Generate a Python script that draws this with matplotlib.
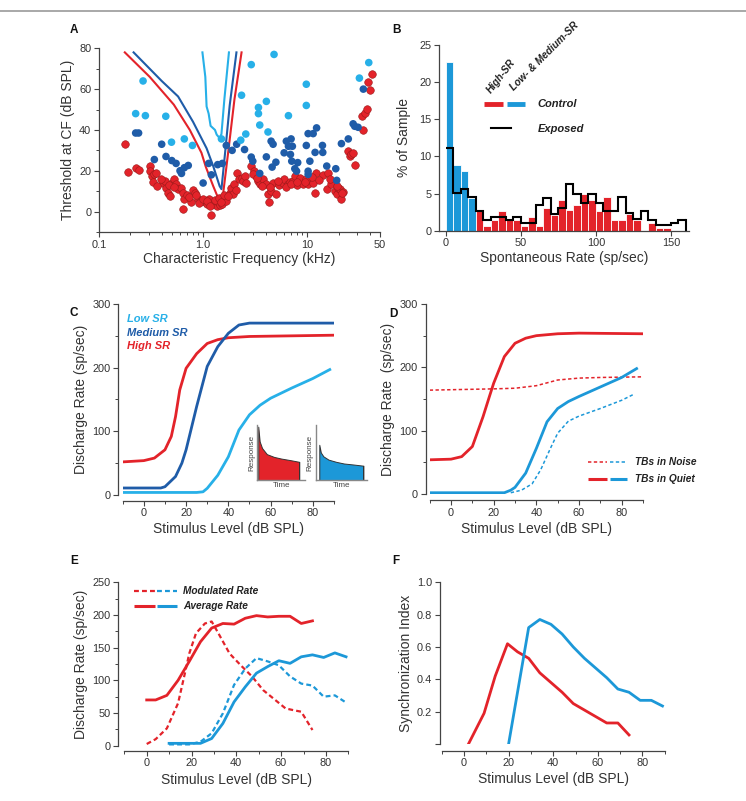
import numpy as np
import matplotlib
matplotlib.use('Agg')
import matplotlib.pyplot as plt
from matplotlib.lines import Line2D
from matplotlib.ticker import MultipleLocator, FixedLocator, NullFormatter, LogLocator

plt.rcParams['font.family'] = ['Liberation Sans', 'DejaVu Sans']

RED = '#e3232a'
LBLUE = '#27b0e8'
DBLUE = '#1f5ca8'
BLUE = '#1c98d8'
INK = '#333333'

# ---------------- Panel A data ----------------
low_f = [0.265, 0.225, 0.279, 0.438, 0.66, 0.79, 0.497, 1.50, 2.34, 2.57, 2.30, 2.9, 3.4, 3.4, 3.5,
         4.05, 4.2, 4.8, 6.6, 9.8, 9.8, 31.7, 39.0]
low_thr = [64, 48, 47, 46.7, 35.6, 32.4, 34, 35.6, 57, 38, 35, 72, 51, 48, 42.4,
           54, 39, 77, 47, 62.4, 52, 65.4, 73]
med_f = [0.225, 0.24, 0.40, 0.34, 0.44, 0.50, 0.55, 0.60, 0.66, 0.72, 0.62, 1.0, 1.13, 1.2, 1.38,
         1.53, 1.67, 1.9, 2.1, 2.5, 2.9, 3.0, 3.5, 4.05, 4.5, 4.7, 5.0, 4.6, 6.0, 6.3, 6.6, 7.0,
         7.2, 6.9, 7.1, 7.6, 7.9, 8.1, 9.8, 10.2, 10.6, 10.2, 10.2, 11.4, 11.9, 12.3, 14.0, 14.1,
         15.4, 18.8, 19.2, 21.3, 24.8, 27.6, 28.6, 30.8, 34.6]
med_thr = [38.5, 38.5, 33, 25.5, 27, 25, 23.6, 20, 21.5, 22.6, 18.7, 14, 23.6, 18, 23,
           23.6, 32.4, 30, 33, 30.4, 26.7, 24.7, 18.7, 26.8, 34.5, 33, 24.2, 21.8, 28.8, 34.5, 32, 35.6,
           32, 28, 24.7, 21, 19.8, 24, 32.4, 38.2, 24.7, 19.8, 18.2, 38.2, 29, 41, 32.4, 29,
           22.3, 21, 15.3, 33.3, 35.6, 43, 41.8, 41.3, 60]
high_f = [0.177, 0.19, 0.225, 0.24, 0.307, 0.307, 0.32, 0.33, 0.34, 0.355, 0.41, 0.43, 0.44, 0.46,
          0.48, 0.50, 0.52, 0.55, 0.57, 0.62, 0.64, 0.66, 0.64, 0.77, 0.80, 0.83, 0.89, 0.96, 1.04,
          1.08, 1.14, 1.19, 1.25, 1.35, 1.38, 1.44, 1.53, 1.62, 1.67, 1.80, 1.87, 1.93, 2.0, 2.1,
          2.2, 2.34, 2.4, 2.5, 2.9, 3.1, 3.2, 3.4, 3.5, 3.8, 4.0, 4.2, 4.3, 4.5, 4.7, 5.0, 5.4,
          5.8, 6.0, 6.6, 6.9, 7.3, 7.6, 7.9, 8.5, 9.1, 9.8, 10.2, 10.6, 11.4, 11.9, 12.1, 14.2,
          15.4, 15.9, 17.1, 18.5, 19.2, 19.9, 20.6, 21.3, 22.2, 24.8, 25.6, 26.5, 27.6, 29.0,
          34.6, 33.3, 35.9, 37.3, 38.7, 40.0, 41.5,
          0.36, 0.39, 0.47, 0.53, 0.70, 0.74, 0.86, 0.92, 1.0, 1.1, 1.16, 1.3, 1.42, 1.48, 1.58,
          1.72, 2.05, 2.6, 3.0, 3.3, 3.7, 4.4, 5.2, 6.3, 7.0, 8.0, 9.5, 11.0, 13.0, 16.5, 19.5, 21.5]
high_thr = [33, 19.5, 21.5, 20.6, 22.3, 19.8, 17.4, 14.5, 18.2, 18.7, 14.1, 15, 11.7, 9.3,
            7.6, 14.1, 15.8, 13.3, 10.9, 11.7, 9.3, 6, 1.5, 4.7, 10.6, 9.3, 6, 5.2, 4.7,
            3.6, 6, -1.8, 3.6, 2.8, 4.7, 3.1, 3.9, 6, 5.2, 9.3, 11.7, 8.5, 13.3, 19,
            15.8, 16.6, 15, 17.4, 22.3, 19.8, 17.4, 15, 13.3, 15.8, 13.3, 8.5, 4.7, 10, 14.1, 8.5, 12.8,
            14.1, 16.1, 13.3, 14.5, 15, 17.4, 12.8, 16.6, 13.3, 16.1, 13.3, 15.8, 14.1, 9.3, 19, 17.7,
            11.2, 19, 13.3, 10, 8.5, 11.7, 10.9, 6, 9.6, 29.6, 27.2, 28, 28.5, 22.6,
            39.8, 47, 48.3, 50.2, 63.7, 59.7, 67.5,
            12.5, 16, 13, 12, 8, 7, 8, 4, 6, 5, 2.5, 5.5, 6.5, 4.5, 8,
            7.5, 10.5, 14, 18.5, 16.5, 12.5, 12, 15, 12, 13.5, 14.5, 14.5, 17, 15.5, 16, 12.5, 9]

tc_high_f = [0.177, 0.307, 0.523, 0.745, 0.964, 1.06, 1.25, 1.37, 1.47, 1.55, 1.75, 2.0, 2.34]
tc_high_thr = [78, 66, 52.4, 40, 28.8, 22, 12.5, 7.6, 4.5, 8, 30, 55, 78]
tc_med_f = [0.215, 0.40, 0.575, 0.80, 1.08, 1.25, 1.44, 1.50, 1.62, 1.80, 2.09]
tc_med_thr = [78, 64, 56.4, 44, 31, 22.3, 12.5, 11, 28, 52, 78]
tc_low_f = [0.985, 1.05, 1.08, 1.13, 1.18, 1.30, 1.35, 1.44, 1.50, 1.60, 1.77]
tc_low_thr = [78, 66, 51.5, 48, 42, 40, 37.7, 36, 38, 55, 78]

# ---------------- Panel B data ----------------
bin_edges = np.arange(0, 165, 5)
control_low = [22.7, 8.8, 8.1, 4.4]
control_high = [2.6, 0.7, 1.5, 2.6, 1.4, 1.5, 0.7, 1.8, 0.7, 3.0, 2.1, 4.2, 2.8, 3.4, 5.0, 4.2,
                2.6, 4.6, 1.5, 1.5, 2.3, 1.5, 0.0, 1.0, 0.35, 0.35]
exposed = [11.1, 5.1, 5.6, 4.5, 2.6, 1.5, 1.8, 1.8, 1.4, 1.8, 1.1, 1.1, 3.4, 4.4, 2.3, 3.1,
           6.3, 4.9, 3.7, 4.9, 3.7, 2.6, 2.6, 4.6, 2.4, 1.6, 2.6, 1.5, 0.8, 0.8, 1.1, 1.5]

# ---------------- Panel C data ----------------
c_high_x = [-10, 0, 5, 10, 13, 15, 17, 20, 25, 30, 35, 40, 50, 90]
c_high_y = [52, 54, 58, 71, 92, 123, 165, 199, 222, 238, 244, 247, 249, 251]
c_med_x = [-10, 8, 10, 15, 18, 20, 25, 30, 35, 40, 45, 50, 90]
c_med_y = [11, 11, 13, 29, 50, 71, 139, 202, 233, 254, 267, 270, 270]
c_low_x = [-10, 25, 28, 30, 35, 40, 45, 50, 55, 60, 70, 80, 88]
c_low_y = [4, 4, 5, 10.5, 31, 60, 102, 126, 141, 152, 168, 183, 197]
inset_t = [0.02, 0.05, 0.1, 0.2, 0.35, 0.5, 0.7, 0.88]
inset_high = [0.97, 0.70, 0.58, 0.47, 0.42, 0.39, 0.36, 0.33]
inset_low = [0.64, 0.50, 0.43, 0.37, 0.33, 0.30, 0.28, 0.26]

# ---------------- Panel D data ----------------
d_hq_x = [-10, 0, 5, 10, 15, 18, 20, 25, 30, 35, 40, 50, 60, 90]
d_hq_y = [54, 55, 59, 75, 122, 154, 175, 217, 238, 246, 250, 253, 254, 253]
d_hn_x = [-10, 20, 30, 40, 50, 60, 70, 90]
d_hn_y = [164, 166, 167, 171, 180, 183, 184, 185]
d_lq_x = [-10, 25, 28, 30, 35, 40, 45, 50, 55, 60, 70, 80, 87]
d_lq_y = [2, 2, 6, 10.5, 33, 72, 114, 135, 146, 154, 169, 184, 198]
d_ln_x = [28, 33, 38, 42, 47, 50, 55, 60, 70, 80, 86]
d_ln_y = [2, 6, 16, 38, 75, 96, 115, 123, 135, 148, 158]

# ---------------- Panel E data ----------------
e_ha_x = [0, 4, 9, 14, 19, 24, 29, 34, 39, 44, 49, 54, 59, 64, 69, 74]
e_ha_y = [70, 70, 77, 100, 129, 159, 180, 187, 186, 195, 199, 197, 198, 198, 187, 191]
e_hm_x = [0, 4, 9, 14, 17, 19, 22, 26, 29, 32, 37, 42, 47, 52, 57, 62, 66, 69, 74]
e_hm_y = [2.6, 10, 26.5, 65, 110, 141, 172, 187, 190, 172, 141, 123, 106, 85, 71, 57, 54, 52, 24]
e_la_x = [10, 14, 19, 24, 29, 34, 39, 44, 49, 54, 59, 64, 69, 74, 79, 84, 89]
e_la_y = [3.6, 3.6, 3.6, 3.6, 11, 34, 67, 90, 111, 121, 130, 126, 136, 139, 135, 142, 136]
e_lm_x = [10, 19, 24, 29, 34, 39, 44, 49, 54, 59, 64, 69, 74, 79, 84, 89]
e_lm_y = [2, 2, 6, 19, 49.5, 93, 118, 134, 129, 123, 106, 95, 92, 75, 77, 66]

# ---------------- Panel F data ----------------
f_h_x = [2, 9, 14, 19.5, 24, 29, 34, 39, 44, 49, 54, 59, 64, 69, 74]
f_h_y = [0, 0.19, 0.42, 0.62, 0.57, 0.53, 0.44, 0.38, 0.32, 0.25, 0.21, 0.17, 0.13, 0.13, 0.056]
f_l_x = [20, 29, 34, 39, 44, 49, 54, 59, 64, 69, 74, 79, 84, 89]
f_l_y = [0, 0.72, 0.77, 0.74, 0.68, 0.60, 0.53, 0.47, 0.41, 0.34, 0.32, 0.27, 0.27, 0.235]

W, H = 746, 801
fig = plt.figure(figsize=(W / 100, H / 100), dpi=100)


def px_axes(left, right, top, bottom):
    return fig.add_axes([left / W, 1 - bottom / H, (right - left) / W, (bottom - top) / H])


def style(ax, outward=(0, 0)):
    for s in ('top', 'right'):
        ax.spines[s].set_visible(False)
    for s in ('left', 'bottom'):
        ax.spines[s].set_color('#444444')
        ax.spines[s].set_linewidth(0.9)
    ax.spines['left'].set_position(('outward', outward[0]))
    ax.spines['bottom'].set_position(('outward', outward[1]))
    ax.tick_params(which='major', direction='out', length=3.5, width=0.8, color='#444444',
                   labelsize=7.9, labelcolor=INK, pad=2)
    ax.tick_params(which='minor', direction='out', length=2.2, width=0.7, color='#444444')


LABFS = 10

# ---------------- Panel A ----------------
axA = px_axes(99, 380, 48.3, 232)
style(axA)
axA.set_xscale('log')
axA.plot(tc_low_f, tc_low_thr, color=LBLUE, lw=1.5, zorder=2)
axA.plot(tc_med_f, tc_med_thr, color=DBLUE, lw=1.5, zorder=2)
axA.plot(tc_high_f, tc_high_thr, color=RED, lw=1.5, zorder=2)
axA.scatter(high_f, high_thr, s=30, color=RED, edgecolor='#9a1a1a', linewidth=0.4, zorder=3)
axA.scatter(med_f, med_thr, s=30, color=DBLUE, edgecolor='none', zorder=4)
axA.scatter(low_f, low_thr, s=30, color=LBLUE, edgecolor='none', zorder=4)
axA.set_xlim(0.1, 50)
axA.set_ylim(-10, 80)
axA.set_xticks([0.1, 1, 10, 50])
axA.set_xticklabels(['0.1', '1.0', '10', '50'])
axA.xaxis.set_minor_locator(LogLocator(base=10, subs=np.arange(2, 10)))
axA.xaxis.set_minor_formatter(NullFormatter())
axA.set_yticks([0, 20, 40, 60, 80])
axA.yaxis.set_minor_locator(FixedLocator([-10, 10, 30, 50, 70]))
axA.set_xlabel('Characteristic Frequency (kHz)', fontsize=LABFS, color=INK, labelpad=2)
axA.set_ylabel('Threshold at CF (dB SPL)', fontsize=LABFS, color=INK, labelpad=3)

# ---------------- Panel B ----------------
axB = px_axes(439.3, 689, 45, 230.7)
style(axB)
axB.bar(bin_edges[:4], control_low, width=5, align='edge', color=BLUE, edgecolor='white', linewidth=0.6)
axB.bar(bin_edges[4:4 + len(control_high)], control_high, width=5, align='edge', color=RED,
        edgecolor='white', linewidth=0.6)
axB.stairs(exposed, bin_edges, baseline=None, color='black', lw=1.5)
axB.plot([bin_edges[-1], bin_edges[-1]], [exposed[-1], 0], color='black', lw=1.5)
axB.set_xlim(-4.3, 162)
axB.set_ylim(0, 25)
axB.set_xticks([0, 50, 100, 150])
axB.set_yticks([0, 5, 10, 15, 20, 25])
axB.set_xlabel('Spontaneous Rate (sp/sec)', fontsize=LABFS, color=INK, labelpad=2)
axB.set_ylabel('% of Sample', fontsize=LABFS, color=INK, labelpad=6)
T = axB.transAxes
axB.plot([0.179, 0.256], [0.68, 0.68], color=RED, lw=3.5, transform=T, solid_capstyle='butt')
axB.plot([0.273, 0.345], [0.68, 0.68], color=BLUE, lw=3.5, transform=T, solid_capstyle='butt')
axB.plot([0.206, 0.288], [0.552, 0.552], color='black', lw=1.5, transform=T)
axB.text(0.393, 0.68, 'Control', transform=T, fontsize=8, fontweight='bold', style='italic',
         va='center', color='#222222')
axB.text(0.396, 0.548, 'Exposed', transform=T, fontsize=8, fontweight='bold', style='italic',
         va='center', color='#222222')
axB.text(0.215, 0.731, 'High-SR', transform=T, fontsize=7.3, fontweight='bold', style='italic',
         rotation=52, rotation_mode='anchor', ha='left', va='bottom', clip_on=False, color='#222222')
axB.text(0.303, 0.742, 'Low- & Medium-SR', transform=T, fontsize=7.3, fontweight='bold', style='italic',
         rotation=45, rotation_mode='anchor', ha='left', va='bottom', clip_on=False, color='#222222')


def level_axis(ax):
    ax.set_xlim(-10, 90)
    ax.set_xticks([0, 20, 40, 60, 80])
    ax.xaxis.set_minor_locator(FixedLocator([-10, 10, 30, 50, 70, 90]))
    ax.set_xlabel('Stimulus Level (dB SPL)', fontsize=LABFS, color=INK, labelpad=3)


# ---------------- Panel C ----------------
axC = px_axes(122.7, 334, 304, 495)
style(axC, outward=(3.2, 4))
axC.plot(c_high_x, c_high_y, color=RED, lw=2.0, solid_joinstyle='round')
axC.plot(c_med_x, c_med_y, color=DBLUE, lw=2.0, solid_joinstyle='round')
axC.plot(c_low_x, c_low_y, color=LBLUE, lw=2.0, solid_joinstyle='round')
level_axis(axC)
axC.set_ylim(0, 300)
axC.set_yticks([0, 100, 200, 300])
axC.yaxis.set_minor_locator(MultipleLocator(50))
axC.set_ylabel('Discharge Rate (sp/sec)', fontsize=LABFS, color=INK, labelpad=3)
for yy, txt, col in [(0.923, 'Low SR', LBLUE), (0.85, 'Medium SR', DBLUE), (0.78, 'High SR', RED)]:
    axC.text(0.019, yy, txt, transform=axC.transAxes, color=col, fontsize=8,
             fontweight='bold', style='italic', va='center')


def inset(left, right, fillx, filly, col):
    ax = px_axes(left, right, 425, 480)
    for s in ('top', 'right'):
        ax.spines[s].set_visible(False)
    for s in ('left', 'bottom'):
        ax.spines[s].set_color('#888888')
        ax.spines[s].set_linewidth(1.0)
    ax.set_xticks([])
    ax.set_yticks([])
    ax.set_xlim(0, 1)
    ax.set_ylim(0, 1)
    ax.patch.set_alpha(0)
    ax.fill_between(fillx, filly, 0, color=col, edgecolor='#333333', linewidth=0.7)
    ax.plot([fillx[-1], fillx[-1]], [0, filly[-1]], color='#333333', lw=0.7)
    ax.set_ylabel('Response', fontsize=5.8, color='#444444', labelpad=1.5)
    ax.set_xlabel('Time', fontsize=5.8, color='#444444', labelpad=1.5)
    return ax


inset(257.3, 305, inset_t, inset_high, RED)
inset(315.7, 367, [t + 0.05 for t in inset_t], inset_low, BLUE)

# ---------------- Panel D ----------------
axD = px_axes(429.7, 643, 304, 494)
style(axD, outward=(3, 4.5))
axD.plot(d_hn_x, d_hn_y, color=RED, lw=1.1, linestyle=(0, (2.2, 1.6)))
axD.plot(d_ln_x, d_ln_y, color=BLUE, lw=1.1, linestyle=(0, (2.2, 1.6)))
axD.plot(d_hq_x, d_hq_y, color=RED, lw=2.0, solid_joinstyle='round')
axD.plot(d_lq_x, d_lq_y, color=BLUE, lw=2.0, solid_joinstyle='round')
level_axis(axD)
axD.set_ylim(0, 300)
axD.set_yticks([0, 100, 200, 300])
axD.yaxis.set_minor_locator(MultipleLocator(50))
axD.set_ylabel('Discharge Rate  (sp/sec)', fontsize=LABFS, color=INK, labelpad=3)
T = axD.transAxes
axD.plot([0.743, 0.832], [0.168, 0.168], color=RED, lw=1.1, ls=(0, (2.2, 1.6)), transform=T, clip_on=False)
axD.plot([0.846, 0.926], [0.168, 0.168], color=BLUE, lw=1.1, ls=(0, (2.2, 1.6)), transform=T, clip_on=False)
axD.plot([0.743, 0.832], [0.079, 0.079], color=RED, lw=2.2, transform=T, clip_on=False, solid_capstyle='butt')
axD.plot([0.846, 0.926], [0.079, 0.079], color=BLUE, lw=2.2, transform=T, clip_on=False, solid_capstyle='butt')
axD.text(0.962, 0.168, 'TBs in Noise', transform=T, fontsize=7.3, fontweight='bold', style='italic',
         va='center', color='#222222', clip_on=False)
axD.text(0.962, 0.079, 'TBs in Quiet', transform=T, fontsize=7.3, fontweight='bold', style='italic',
         va='center', color='#222222', clip_on=False)

# ---------------- Panel E ----------------
axE = px_axes(124.3, 348.3, 582.3, 745.7)
style(axE, outward=(4.3, 3.6))
axE.plot(e_hm_x, e_hm_y, color=RED, lw=1.6, linestyle=(0, (2.2, 1.4)))
axE.plot(e_lm_x, e_lm_y, color=BLUE, lw=1.6, linestyle=(0, (2.2, 1.4)))
axE.plot(e_ha_x, e_ha_y, color=RED, lw=2.0, solid_joinstyle='round')
axE.plot(e_la_x, e_la_y, color=BLUE, lw=2.0, solid_joinstyle='round')
level_axis(axE)
axE.set_ylim(0, 250)
axE.set_yticks([0, 50, 100, 150, 200, 250])
axE.yaxis.set_minor_locator(MultipleLocator(25))
axE.set_ylabel('Discharge Rate (sp/sec)', fontsize=LABFS, color=INK, labelpad=3)
T = axE.transAxes
axE.plot([0.043, 0.137], [0.948, 0.948], color=RED, lw=1.6, ls=(0, (2.2, 1.4)), transform=T, clip_on=False)
axE.plot([0.146, 0.235], [0.948, 0.948], color=BLUE, lw=1.6, ls=(0, (2.2, 1.4)), transform=T, clip_on=False)
axE.plot([0.043, 0.137], [0.852, 0.852], color=RED, lw=2.2, transform=T, clip_on=False, solid_capstyle='butt')
axE.plot([0.146, 0.235], [0.852, 0.852], color=BLUE, lw=2.2, transform=T, clip_on=False, solid_capstyle='butt')
axE.text(0.262, 0.948, 'Modulated Rate', transform=T, fontsize=7.3, fontweight='bold', style='italic',
         va='center', color='#222222')
axE.text(0.262, 0.852, 'Average Rate', transform=T, fontsize=7.3, fontweight='bold', style='italic',
         va='center', color='#222222')

# ---------------- Panel F ----------------
axF = px_axes(441.7, 664.7, 582.3, 744)
style(axF, outward=(1.5, 4.8))
axF.plot(f_h_x, f_h_y, color=RED, lw=2.0, solid_joinstyle='round')
axF.plot(f_l_x, f_l_y, color=BLUE, lw=2.0, solid_joinstyle='round')
level_axis(axF)
axF.set_ylim(0, 1.0)
axF.set_yticks([0, 0.2, 0.4, 0.6, 0.8, 1.0])
axF.set_yticklabels(['', '0.2', '0.4', '0.6', '0.8', '1.0'])
axF.set_ylabel('Synchronization Index', fontsize=LABFS, color=INK, labelpad=3)

# ---------------- Panel letters & frame line ----------------
for x, y, s in [(70, 30, 'A'), (392, 30, 'B'), (70, 313, 'C'), (389, 314, 'D'), (70, 561, 'E'), (392, 561, 'F')]:
    fig.text(x / W, 1 - y / H, s, fontsize=8.5, fontweight='bold', ha='left', va='center', color='#111111')

fig.add_artist(Line2D([0, 1], [1 - 11 / H, 1 - 11 / H], transform=fig.transFigure, color='#9a9a9a', lw=1.2))

fig.savefig('out.png', dpi=100)
